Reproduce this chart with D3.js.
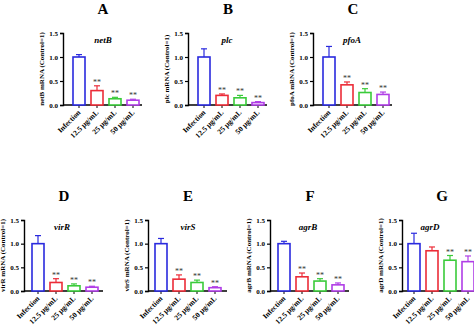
<!DOCTYPE html>
<html>
<head>
<meta charset="utf-8">
<script src="https://cdn.jsdelivr.net/npm/d3@7"></script>
<style>
  body { margin: 0; background: #fff; }
  text { font-family: "Liberation Serif", "Times New Roman", serif; font-weight: bold; }
</style>
</head>
<body>
<div id="chart"></div>
<script>
// categories on the x axis
var categories = ["Infection", "12.5 μg/mL", "25 μg/mL", "50 μg/mL"];
var yTicks = [0, 0.5, 1.0, 1.5];
var panelLetters = ["A", "B", "C", "D", "E", "F", "G"];
var genes = ["netB", "plc", "pfoA", "virR", "virS", "agrB", "agrD"];

// mean relative expression (Control=1)
var netB = [1.00, 0.30, 0.13, 0.10];
var plc  = [1.00, 0.20, 0.15, 0.05];
var pfoA = [1.00, 0.42, 0.26, 0.22];
var virR = [1.00, 0.18, 0.11, 0.08];
var virS = [1.00, 0.25, 0.18, 0.07];
var agrB = [1.00, 0.30, 0.21, 0.13];
var agrD = [1.00, 0.85, 0.65, 0.62];

// error bars (upper SD)
var netBErr = [0.05, 0.10, 0.03, 0.02];
var plcErr  = [0.17, 0.03, 0.05, 0.02];
var pfoAErr = [0.22, 0.06, 0.08, 0.05];
var virRErr = [0.17, 0.08, 0.04, 0.02];
var virSErr = [0.11, 0.09, 0.05, 0.02];
var agrBErr = [0.05, 0.08, 0.05, 0.04];
var agrDErr = [0.22, 0.08, 0.10, 0.12];

// significance marks
var netBSig = ["", "**", "**", "**"];
var plcSig  = ["", "**", "**", "**"];
var pfoASig = ["", "**", "**", "**"];
var virRSig = ["", "**", "**", "**"];
var virSSig = ["", "**", "**", "**"];
var agrBSig = ["", "**", "**", "**"];
var agrDSig = ["", "", "**", "**"];

var values = [netB, plc, pfoA, virR, virS, agrB, agrD];
var errors = [netBErr, plcErr, pfoAErr, virRErr, virSErr, agrBErr, agrDErr];
var sigs = [netBSig, plcSig, pfoASig, virRSig, virSSig, agrBSig, agrDSig];

var colors = ["#2a2ade", "#ec2c38", "#3acb3a", "#b03ee6"];

// panel placement: axis x, y of zero, y of top, bar offset
var layout = [
  {ax: 63,  y0: 105, yt: 33,  off: 3, gx: 40},
  {ax: 188, y0: 105, yt: 33,  off: 3, gx: 39},
  {ax: 313, y0: 105, yt: 33,  off: 3, gx: 39},
  {ax: 24,  y0: 291, yt: 220, off: 1, gx: 38},
  {ax: 148, y0: 291, yt: 220, off: 0, gx: 40},
  {ax: 270, y0: 291, yt: 220, off: 1, gx: 38},
  {ax: 402, y0: 291, yt: 220, off: -1, gx: 28}
];

var svg = d3.select("#chart")
  .append("svg")
    .attr("width", 474)
    .attr("height", 325);

layout.forEach(function(p, i) {
  var g = svg.append("g");

  var x = d3.scaleBand()
    .domain(categories)
    .range([p.ax + 4 + p.off, p.ax + 76 + p.off])
    .paddingInner(1 / 3)
    .paddingOuter(1 / 6);

  var y = d3.scaleLinear()
    .domain([0, 1.5])
    .range([p.y0, p.yt]);

  var data = categories.map(function(c, j) {
    return {cat: c, v: values[i][j], e: errors[i][j], s: sigs[i][j], col: colors[j]};
  });

  // y axis
  var yAxis = g.append("g")
    .attr("transform", "translate(" + p.ax + ",0)")
    .call(d3.axisLeft(y).tickValues(yTicks).tickFormat(d3.format(".1f")).tickSize(3).tickPadding(2));
  yAxis.select(".domain").attr("stroke-width", 1.4);
  yAxis.selectAll(".tick line").attr("stroke-width", 1.2);
  yAxis.selectAll("text").style("font-size", "7px").style("font-family", "Liberation Serif").style("font-weight", "bold");

  // x axis
  var xAxis = g.append("g")
    .attr("transform", "translate(0," + p.y0 + ")")
    .call(d3.axisBottom(x).tickSize(3).tickSizeOuter(0).tickFormat(""));
  xAxis.select(".domain").attr("d", "M" + p.ax + ",0H" + (p.ax + 79)).attr("stroke-width", 1.4);
  xAxis.selectAll(".tick line").attr("stroke-width", 1);

  // rotated category labels
  g.selectAll(".xl")
    .data(categories)
    .enter()
    .append("text")
    .attr("text-anchor", "end")
    .attr("transform", function(d) {
      return "translate(" + (x(d) + x.bandwidth() / 2 + 2) + "," + (p.y0 + 8) + ") rotate(-45)";
    })
    .style("font-size", "7.5px")
    .text(function(d) { return d; });

  // error bars (upper only)
  data.forEach(function(d) {
    var cx = x(d.cat) + x.bandwidth() / 2;
    g.append("line")
      .attr("x1", cx).attr("x2", cx)
      .attr("y1", y(d.v)).attr("y2", y(d.v + d.e))
      .attr("stroke", d.col).attr("stroke-width", 1.2);
    g.append("line")
      .attr("x1", cx - 3).attr("x2", cx + 3)
      .attr("y1", y(d.v + d.e)).attr("y2", y(d.v + d.e))
      .attr("stroke", d.col).attr("stroke-width", 1.2);
  });

  // bars
  g.selectAll("rect")
    .data(data)
    .enter()
    .append("rect")
    .attr("x", function(d) { return x(d.cat); })
    .attr("y", function(d) { return y(d.v); })
    .attr("width", x.bandwidth())
    .attr("height", function(d) { return p.y0 - y(d.v); })
    .attr("fill", "#fff")
    .attr("stroke", function(d) { return d.col; })
    .attr("stroke-width", 1.6);

  // significance stars
  g.selectAll(".sig")
    .data(data)
    .enter()
    .append("text")
    .attr("text-anchor", "middle")
    .attr("x", function(d) { return x(d.cat) + x.bandwidth() / 2; })
    .attr("y", function(d) { return y(d.v + d.e) - 1; })
    .style("font-size", "8px")
    .style("font-weight", "normal")
    .attr("fill", "#333")
    .text(function(d) { return d.s; });

  // y axis title
  g.append("text")
    .attr("text-anchor", "middle")
    .attr("transform", "translate(" + (p.ax - 19) + "," + ((p.y0 + p.yt) / 2) + ") rotate(-90)")
    .style("font-size", "7px")
    .text(genes[i] + " mRNA (Control=1)");

  // gene name
  g.append("text")
    .attr("text-anchor", "middle")
    .attr("x", p.ax + p.gx)
    .attr("y", p.yt + 10)
    .style("font-size", "9px")
    .style("font-style", "italic")
    .text(genes[i]);

  // panel letter
  g.append("text")
    .attr("text-anchor", "middle")
    .attr("x", p.ax + 40)
    .attr("y", p.yt - 19)
    .style("font-size", "15px")
    .text(panelLetters[i]);
});
</script>
</body>
</html>
